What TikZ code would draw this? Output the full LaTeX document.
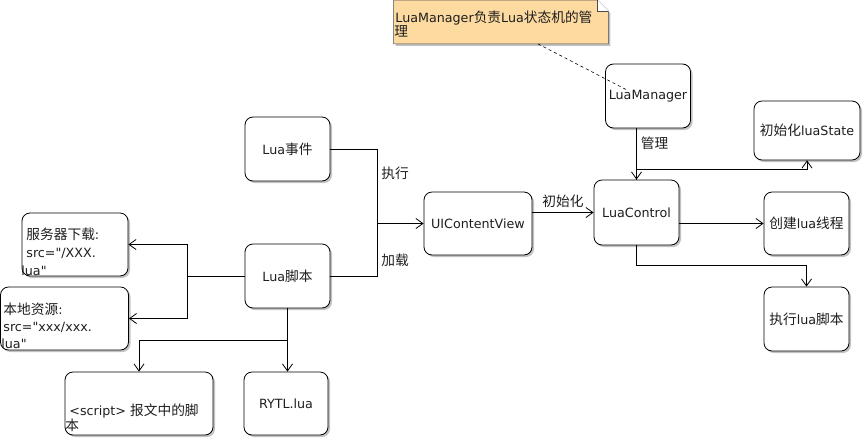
\documentclass[tikz,border=0pt]{standalone}
\usepackage{fontspec}
\newfontfamily\uifont{DejaVu Sans}
\newfontfamily\cjk[Scale=1.08]{Noto Sans CJK SC}
\newcommand{\zh}[1]{{\cjk #1}}
\usetikzlibrary{arrows.meta,shadows,calc}
\definecolor{notefill}{RGB}{253,218,160}
\definecolor{ink}{RGB}{30,30,30}

\begin{document}
\begin{tikzpicture}[x=1pt, y=-1pt, line width=0.8pt, >={Straight Barb[length=7pt,width=10pt]},
  every node/.style={font=\uifont\fontsize{12.7}{15}\selectfont, text=ink},
  box/.style={draw, rounded corners=8pt, fill=white, minimum width=85pt, minimum height=64pt,
    drop shadow={shadow xshift=2pt, shadow yshift=-2pt, fill=black!40, opacity=0.6}},
  lbl/.style={inner sep=0pt},
  boxtext/.style={inner sep=0pt, anchor=north west, align=left}]
\useasboundingbox (0,0) rectangle (865,440);
% 注释
\node[inner sep=0pt, minimum width=214pt, minimum height=43pt] (note) at (501,22) {};
\path[fill=notefill, draw=black!70, line width=0.6pt, drop shadow={shadow xshift=2pt, shadow yshift=-2pt, fill=black!40, opacity=0.6}]
  (note.north west) -- ($(note.north east)+(-11,0)$) -- ($(note.north east)+(0,11)$) -- (note.south east) -- (note.south west) -- cycle;
\draw[line width=0.6pt, draw=black!70, fill=white] ($(note.north east)+(-11,0)$) -- ($(note.north east)+(-11,11)$) -- ($(note.north east)+(0,11)$);
\node[boxtext, font=\uifont\fontsize{12.7}{15}\selectfont] (notetxt) at (395,11) {LuaManager\zh{负责}Lua\zh{状态机的管}\\[-1pt]\hspace*{-1pt}\zh{理}};
% 右侧：管理与控制
\node[box, minimum width=84pt] (mgr) at (648,96) {LuaManager};
\node[box, minimum width=106pt, minimum height=59pt] (state) at (807,130.5) {\zh{初始化}luaState};
\node[box, minimum height=65pt] (ctrl) at (636.5,212.5) {LuaControl};
\node[box, minimum height=63pt] (thread) at (806.5,223.5) {\zh{创建}lua\zh{线程}};
\node[box] (exec) at (806.5,319) {\zh{执行}lua\zh{脚本}};
\coordinate (mgrpt) at (627,90);
\draw[dashed, line width=0.6pt] ($(note.south)+(37,0)$) -- (mgrpt);
\draw[->] (ctrl.north |- mgr.south) -- (ctrl.north) node[lbl, pos=0.3, right=4pt] {\zh{管理}};
\draw[->] (ctrl.north) -- ++(0,-10) -| (state.south);
\draw[->] (ctrl.east |- thread.west) -- (thread.west);
\draw[->] (ctrl.south) -- ++(0,20) -| (exec.north);
% 中间
\node[box, minimum width=108pt, minimum height=63pt] (uicv) at (478,223.5) {UIContentView};
\draw[->] (uicv.east |- ctrl.west) -- (ctrl.west) node[lbl, midway, above=4pt] {\zh{初始化}};
% 左侧：Lua事件与Lua脚本
\node[box] (evt) at (287.5,149) {Lua\zh{事件}};
\node[box] (script) at (287.5,276) {Lua\zh{脚本}};
\coordinate (j) at (377,223.5);
\draw (evt.east) -| (j);
\draw (script.east) -| (j);
\draw[->] (j) -- (uicv.west);
\node[lbl, anchor=west] (exe) at (381,173) {\zh{执行}};
\node[lbl, anchor=west] (load) at (381,260) {\zh{加载}};
% 脚本来源
\node[box, minimum width=106pt, minimum height=63pt] (server) at (75,244.5) {};
\node[boxtext, font=\uifont\fontsize{12.7}{18}\selectfont] (servertxt) at (26,228) {\zh{服务器下载}:\\src="/XXX.\\\hspace*{-5pt}lua"};
\node[box, minimum width=128pt, minimum height=63pt] (local) at (64.5,318.5) {};
\node[boxtext, font=\uifont\fontsize{12.7}{17}\selectfont] (localtxt) at (3,303) {\zh{本地资源}:\\src="xxx/xxx.\\\hspace*{-2pt}lua"};
\coordinate (k) at (187,276);
\draw (script.west) -- (k);
\draw[->] (k) |- (server.east);
\draw[->] (k) |- (local.east);
\node[box, minimum width=148pt, minimum height=63pt] (inline) at (139,403.5) {};
\node[boxtext, font=\uifont\fontsize{12.7}{15}\selectfont] (inlinetxt) at (69,403) {<script> \zh{报文中的脚}\\\hspace*{-4pt}\zh{本}};
\node[box, minimum width=84pt, minimum height=63pt] (rytl) at (286,403.5) {RYTL.lua};
\draw[->] (script.south) -- (script.south |- rytl.north);
\draw[->] (script.south) -- ++(0,32) -| (inline.north);
\end{tikzpicture}
\end{document}
